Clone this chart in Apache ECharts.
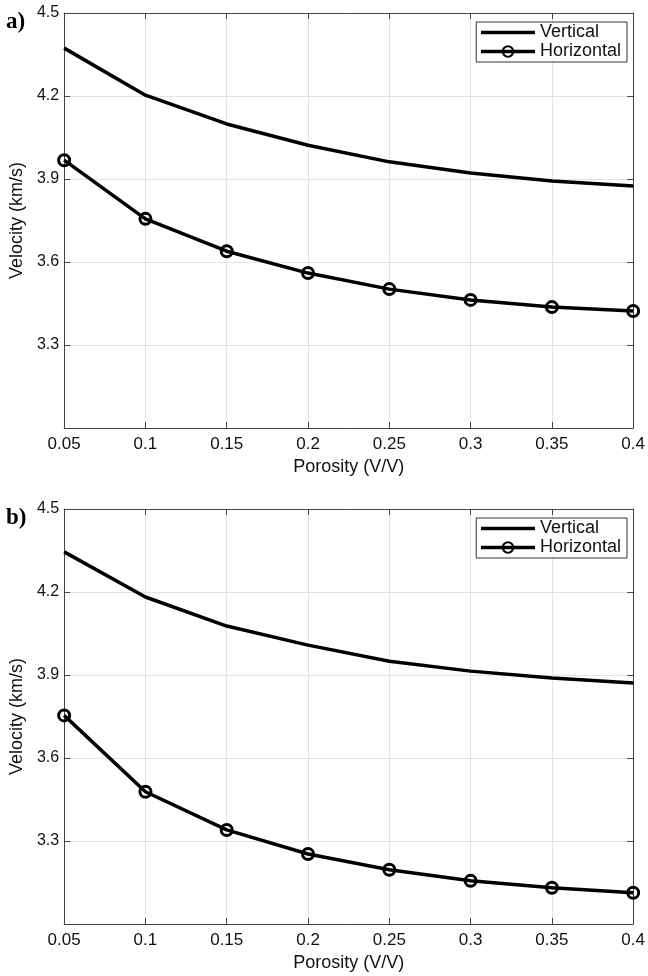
<!DOCTYPE html>
<html>
<head>
<meta charset="utf-8">
<script src="https://cdn.jsdelivr.net/npm/echarts@6/dist/echarts.min.js"></script>
<style>
  html, body { margin: 0; padding: 0; background: #fff; }
  #chart { width: 648px; height: 976px; }
</style>
</head>
<body>
<div id="chart"></div>
<script>
// porosity values along x
var porosity = [0.05, 0.1, 0.15, 0.2, 0.25, 0.3, 0.35, 0.4];

// panel a)
var verticalA   = [4.373, 4.203, 4.099, 4.022, 3.962, 3.922, 3.893, 3.875];
var horizontalA = [3.968, 3.756, 3.639, 3.560, 3.502, 3.463, 3.437, 3.423];

// panel b)
var verticalB   = [4.345, 4.182, 4.077, 4.008, 3.950, 3.914, 3.889, 3.871];
var horizontalB = [3.754, 3.478, 3.340, 3.253, 3.196, 3.156, 3.131, 3.113];

var panelLabels = ['a)', 'b)'];

function pairs(ys) {
    return porosity.map(function (x, i) { return [x, ys[i]]; });
}

var font = 'Liberation Sans, Arial, sans-serif';
var axisColor = '#444';
var gridColor = '#e3e3e3';

var grids = [
    { left: 61, right: 9, top: 13, height: 415 },
    { left: 61, right: 9, top: 509, height: 415 }
];

var xAxes = [], yAxes = [], series = [], legends = [], titles = [];

grids.forEach(function (g, k) {
    // bottom x axis
    xAxes.push({
        type: 'value', gridIndex: k, min: 0.05, max: 0.4, interval: 0.05,
        name: 'Porosity (V/V)', nameLocation: 'middle', nameGap: 30,
        nameTextStyle: { fontFamily: font, fontSize: 18, color: '#111' },
        axisLine: { show: true, onZero: false, lineStyle: { color: axisColor, width: 1 } },
        axisTick: { show: true, inside: true, length: 6, lineStyle: { color: axisColor } },
        axisLabel: {
            fontFamily: font, fontSize: 17, color: '#111', margin: 8,
            formatter: function (v) { return String(+v.toFixed(2)); }
        },
        splitLine: { show: true, lineStyle: { color: gridColor, width: 1 } }
    });
    // top x axis (box + ticks)
    xAxes.push({
        type: 'value', gridIndex: k, position: 'top', min: 0.05, max: 0.4, interval: 0.05,
        axisLine: { show: true, onZero: false, lineStyle: { color: axisColor, width: 1 } },
        axisTick: { show: true, inside: true, length: 6, lineStyle: { color: axisColor } },
        axisLabel: { show: false },
        splitLine: { show: false }
    });
    // left y axis
    yAxes.push({
        type: 'value', gridIndex: k, min: 3.0, max: 4.5, interval: 0.3,
        name: 'Velocity (km/s)', nameLocation: 'middle', nameGap: 38,
        nameTextStyle: { fontFamily: font, fontSize: 18, color: '#111' },
        axisLine: { show: true, onZero: false, lineStyle: { color: axisColor, width: 1 } },
        axisTick: { show: true, inside: true, length: 6, lineStyle: { color: axisColor } },
        axisLabel: {
            fontFamily: font, fontSize: 16, color: '#111', margin: 5,
            formatter: function (v) { return v < 3.05 ? '' : v.toFixed(1); }
        },
        splitLine: { show: true, lineStyle: { color: gridColor, width: 1 } }
    });
    // right y axis
    yAxes.push({
        type: 'value', gridIndex: k, position: 'right', min: 3.0, max: 4.5, interval: 0.3,
        axisLine: { show: true, onZero: false, lineStyle: { color: axisColor, width: 1 } },
        axisTick: { show: true, inside: true, length: 6, lineStyle: { color: axisColor } },
        axisLabel: { show: false },
        splitLine: { show: false }
    });

    var vert = k === 0 ? verticalA : verticalB;
    var horiz = k === 0 ? horizontalA : horizontalB;

    series.push({
        name: 'Vertical', type: 'line', xAxisIndex: 2 * k, yAxisIndex: 2 * k,
        data: pairs(vert), showSymbol: false, symbol: 'none',
        lineStyle: { color: '#000', width: 3.5 }, itemStyle: { color: '#000' },
        animation: false
    });
    series.push({
        name: 'Horizontal', type: 'line', xAxisIndex: 2 * k, yAxisIndex: 2 * k,
        data: pairs(horiz), symbol: 'circle', symbolSize: 11,
        lineStyle: { color: '#000', width: 3.5 },
        itemStyle: { color: 'rgba(255,255,255,0)', borderColor: '#000', borderWidth: 3 },
        z: 3, animation: false
    });

    legends.push({
        data: [
            { name: 'Vertical', itemStyle: { opacity: 0 } },
            { name: 'Horizontal' }
        ],
        orient: 'vertical', right: 21, top: g.top + 9,
        itemWidth: 54, itemHeight: 13, itemGap: 0,
        padding: [1, 6, 1, 3],
        borderColor: '#333', borderWidth: 1, borderRadius: 0,
        backgroundColor: '#fff',
        lineStyle: { width: 3.5 },
        textStyle: { fontFamily: font, fontSize: 18, lineHeight: 19, color: '#111' }
    });

    titles.push({
        text: panelLabels[k], left: 1, top: g.top - 7,
        textStyle: { fontFamily: 'Liberation Serif, Times New Roman, serif', fontSize: 23, fontWeight: 'bold', color: '#000' }
    });
});

var chart = echarts.init(document.getElementById('chart'));
chart.setOption({
    backgroundColor: '#fff',
    animation: false,
    title: titles,
    legend: legends,
    grid: grids,
    xAxis: xAxes,
    yAxis: yAxes,
    series: series
});
</script>
</body>
</html>
